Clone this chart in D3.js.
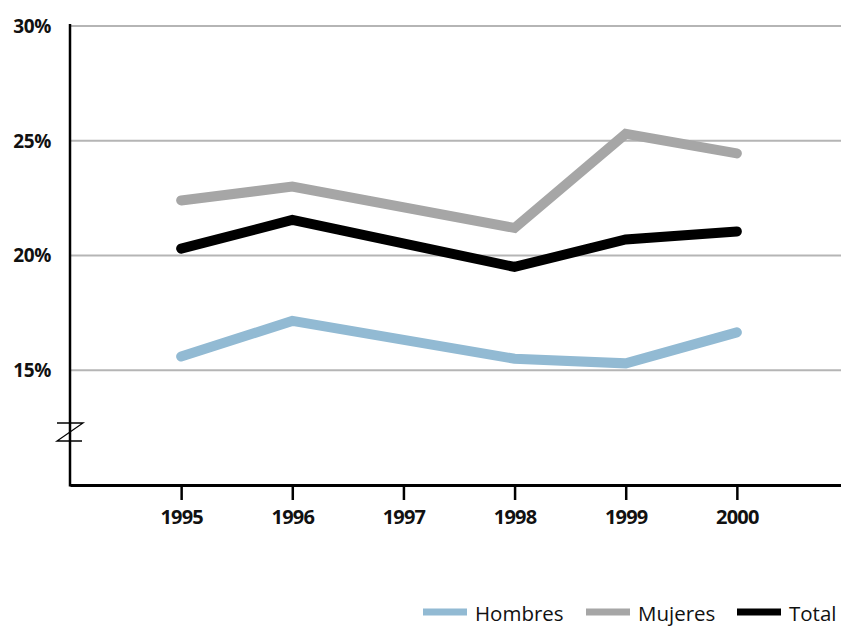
<!DOCTYPE html>
<html>
<head>
<meta charset="utf-8">
<script src="https://cdn.jsdelivr.net/npm/d3@7"></script>
<style>
  html, body { margin: 0; padding: 0; background: #fff; }
  svg { display: block; }
</style>
</head>
<body>
<svg id="chart" width="841" height="626"></svg>
<script>
// ---- data ----
const years = [1995, 1996, 1997, 1998, 1999, 2000];
const hombres = [15.6, 17.15, null, 15.5, 15.3, 16.65];
const mujeres = [22.4, 23.0, null, 21.2, 25.3, 24.45];
const total   = [20.3, 21.55, null, 19.5, 20.7, 21.05];
const yTicks = [15, 20, 25, 30];
const seriesNames = ["Hombres", "Mujeres", "Total"];
const seriesColors = ["#92bad3", "#a6a6a6", "#000000"];

const series = [hombres, mujeres, total].map((vals, i) => ({
  name: seriesNames[i],
  color: seriesColors[i],
  points: years.map((y, j) => ({ year: y, value: vals[j] })).filter(d => d.value != null)
}));

const svg = d3.select("#chart");
const x = d3.scaleLinear().domain([1994, 2001]).range([70, 848]);
const y = d3.scaleLinear().domain([10, 30]).range([485, 26]);

// gridlines
svg.append("g").selectAll("line").data(yTicks).join("line")
  .attr("x1", 70).attr("x2", 841)
  .attr("y1", d => y(d)).attr("y2", d => y(d))
  .attr("stroke", "#b5b5b5").attr("stroke-width", 2);

// y labels
svg.append("g").selectAll("text").data(yTicks).join("text")
  .attr("x", 51).attr("y", d => y(d))
  .attr("dy", "0.36em")
  .attr("text-anchor", "end")
  .attr("font-family", "'Open Sans', sans-serif")
  .attr("font-weight", "bold")
  .attr("font-size", 19)
  .attr("letter-spacing", -0.4)
  .attr("fill", "#111")
  .text(d => d + "%");

// x axis
const xAxis = d3.axisBottom(x).tickValues(years).tickFormat(d3.format("d"))
  .tickSize(15).tickSizeOuter(0).tickPadding(10);
const gx = svg.append("g").attr("transform", `translate(0,${y(10)})`).call(xAxis);
gx.select(".domain").attr("stroke", "#000").attr("stroke-width", 3);
gx.selectAll(".tick line").attr("stroke", "#000").attr("stroke-width", 2.5);
gx.selectAll(".tick text")
  .attr("font-family", "'Open Sans', sans-serif")
  .attr("font-weight", "bold")
  .attr("font-size", 20)
  .attr("letter-spacing", -0.8)
  .attr("fill", "#111");

// y axis line
svg.append("line")
  .attr("x1", 70).attr("x2", 70)
  .attr("y1", 24).attr("y2", y(10) + 1.5)
  .attr("stroke", "#000").attr("stroke-width", 2.5);

// axis break mark
svg.append("path")
  .attr("d", "M57,423 H83 L57,441 H82")
  .attr("fill", "none").attr("stroke", "#000").attr("stroke-width", 1.3);

// lines
const line = d3.line().x(d => x(d.year)).y(d => y(d.value));
svg.append("g").selectAll("path").data(series).join("path")
  .attr("d", d => line(d.points))
  .attr("fill", "none")
  .attr("stroke", d => d.color)
  .attr("stroke-width", 10)
  .attr("stroke-linecap", "round")
  .attr("stroke-linejoin", "miter");

// legend
const legendX = [423, 586, 737];
const lg = svg.append("g").selectAll("g").data(series).join("g")
  .attr("transform", (d, i) => `translate(${legendX[i]},612)`);
lg.append("rect")
  .attr("x", 0).attr("y", -3.5).attr("width", 44).attr("height", 7)
  .attr("fill", d => d.color);
lg.append("text")
  .attr("x", 52).attr("y", 9)
  .attr("font-family", "'Open Sans', sans-serif")
  .attr("font-size", 20.5)
  .attr("fill", "#111")
  .text(d => d.name);
</script>
</body>
</html>
